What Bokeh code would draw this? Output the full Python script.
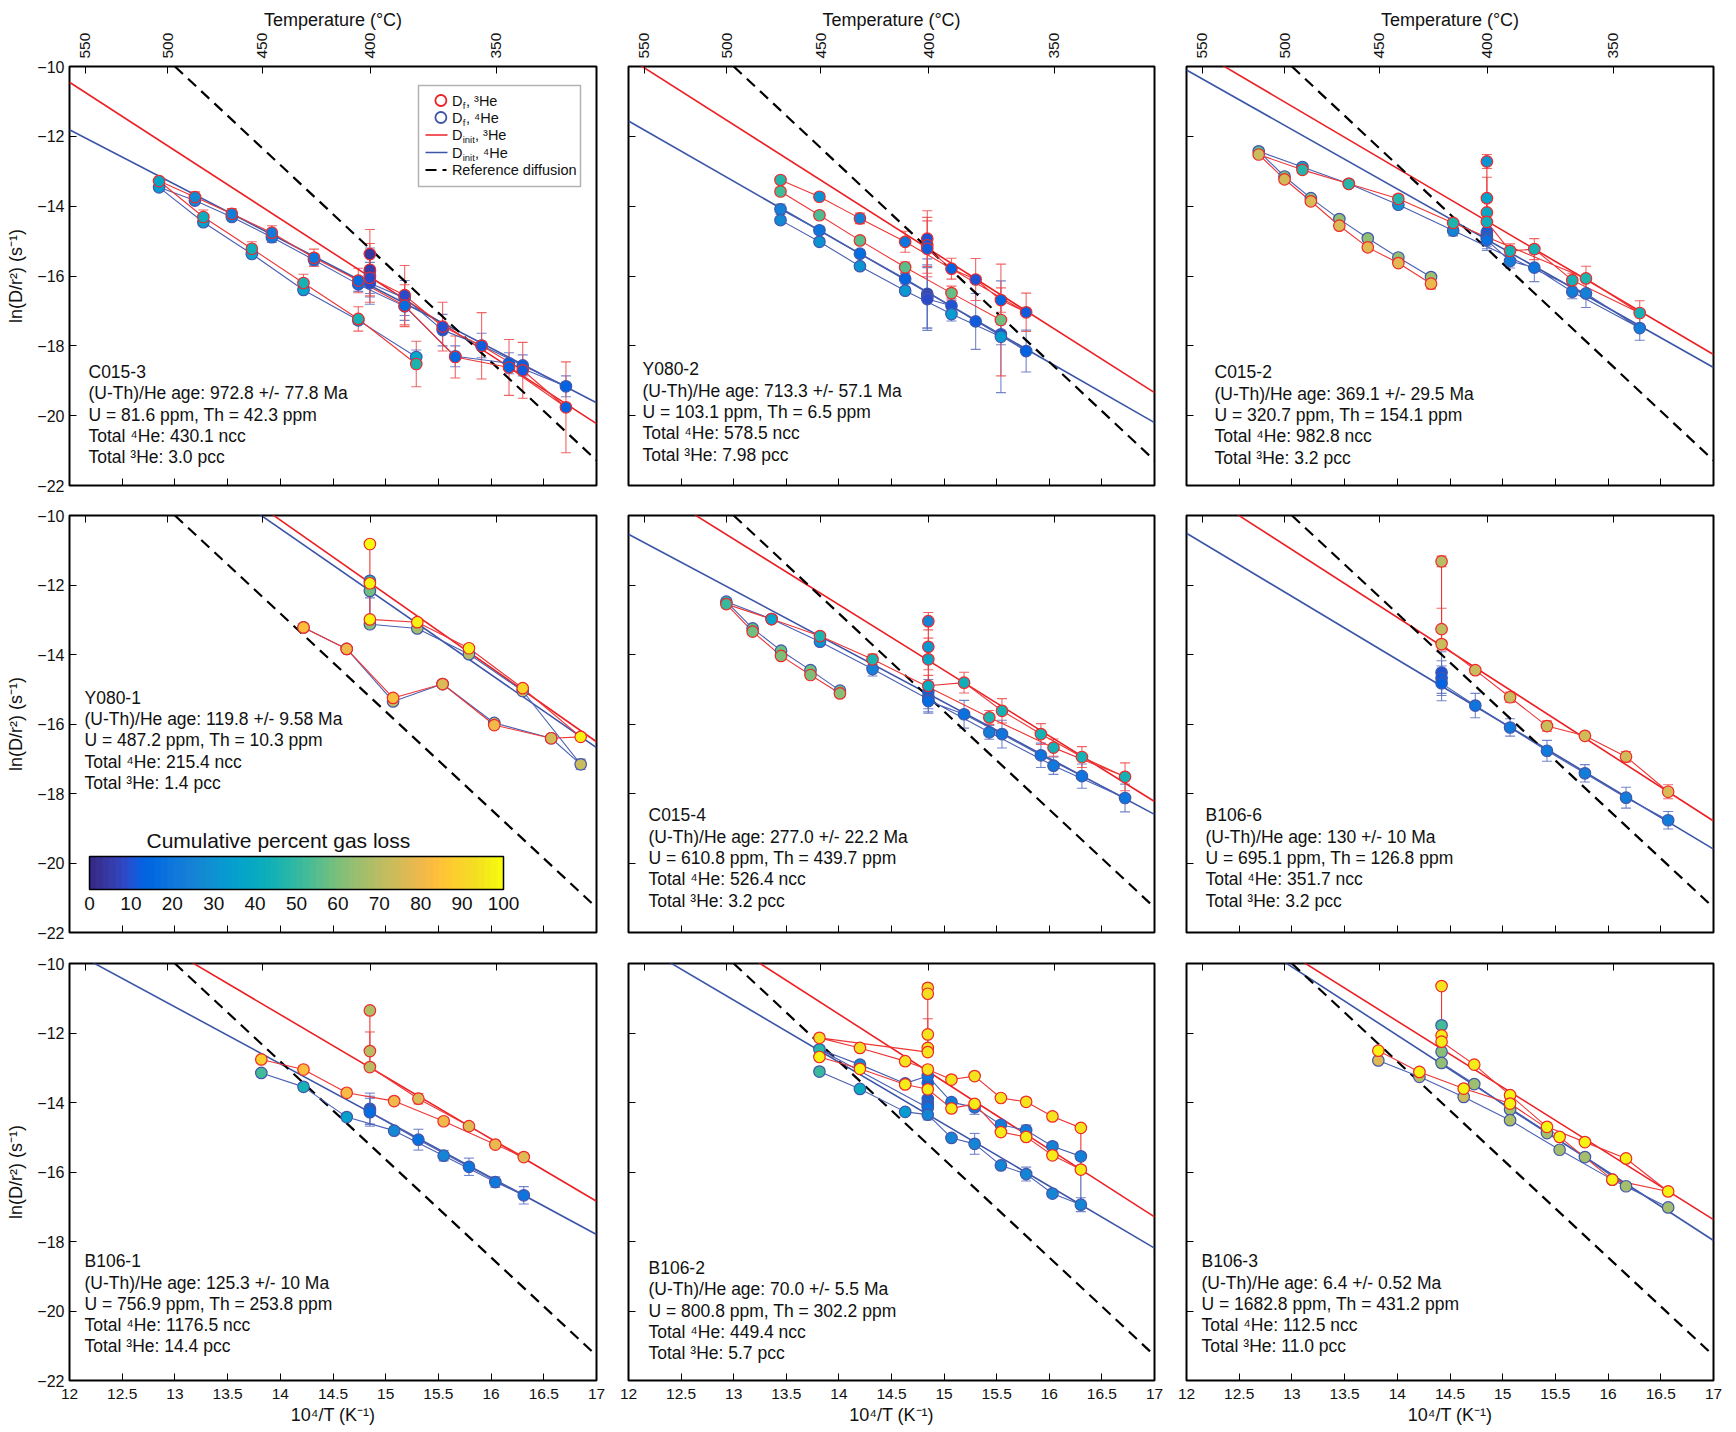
from bokeh.plotting import figure
from bokeh.models import (Range1d, LinearAxis, FixedTicker, CustomJSTickFormatter,
                          ColumnDataSource, Whisker, TeeHead, Label, LinearColorMapper,
                          ColorBar, BoxAnnotation)
from bokeh.transform import linear_cmap
from bokeh.layouts import column, row
from bokeh.embed import file_html
from bokeh.resources import INLINE

# ------------------------------------------------------------------ data
temp_ticks_c = [550, 500, 450, 400, 350]
x_ticks = [12, 12.5, 13, 13.5, 14, 14.5, 15, 15.5, 16, 16.5, 17]
y_ticks = [-22, -20, -18, -16, -14, -12, -10]
gas_ticks = [0, 10, 20, 30, 40, 50, 60, 70, 80, 90, 100]

ref_x = [13.0, 17.0]
ref_lnD = [-10.0, -21.28]
init_x = [12.0, 17.0]

# C015-3
c0153_x = [14.85, 14.85, 14.85, 15.18, 15.54, 15.91, 16.30, 16.71, 16.17, 15.66, 15.18, 14.74, 14.32, 13.92, 13.54, 13.19, 12.85, 13.27, 13.73, 14.22, 14.74, 15.29]
c0153_ln3 = [-15.37, -15.82, -16.05, -16.55, -17.45, -18.00, -18.70, -19.76, -18.62, -18.32, -16.85, -16.13, -15.48, -14.76, -14.22, -13.74, -13.28, -14.31, -15.22, -16.20, -17.23, -18.52]
c0153_ln4 = [-15.85, -16.00, -16.21, -16.63, -17.55, -17.99, -18.56, -19.16, -18.50, -18.30, -16.87, -16.24, -15.54, -14.89, -14.31, -13.84, -13.46, -14.46, -15.37, -16.40, -17.27, -18.32]
c0153_f3 = [4, 6, 8, 9, 10, 11, 12, 13, 14, 15, 16, 17, 19, 21, 23, 27, 38, 42, 43, 44, 45, 46]
c0153_f4 = [4, 6, 8, 9, 10, 11, 12, 13, 14, 15, 16, 17, 19, 21, 23, 26, 33, 35, 36, 37, 38, 39]
c0153_e3 = [0.7, 0.75, 0.7, 0.85, 0.7, 0.95, 0.8, 1.3, 0.8, 0.6, 0.6, 0.35, 0.25, 0.2, 0.15, 0.15, 0.1, 0.2, 0.2, 0.25, 0.35, 0.65]
c0153_e4 = [0.65, 0.6, 0.6, 0.5, 0.45, 0.35, 0.3, 0.3, 0.3, 0.3, 0.4, 0.2, 0.15, 0.15, 0.1, 0.1, 0.1, 0.1, 0.1, 0.1, 0.1, 0.2]
c0153_init3 = [-10.45, -20.23]
c0153_init4 = [-11.81, -19.63]

# Y080-2
y0802_x = [14.84, 14.84, 14.84, 15.07, 15.30, 15.54, 15.78, 14.63, 14.20, 13.815, 13.445, 13.445, 13.815, 14.20, 14.63, 15.07, 15.54]
y0802_ln3 = [-14.93, -15.12, -15.22, -15.79, -16.10, -16.69, -17.04, -15.02, -14.35, -13.73, -13.25, -13.58, -14.26, -14.98, -15.75, -16.49, -17.26]
y0802_ln4 = [-16.51, -16.58, -16.66, -16.85, -17.30, -17.67, -18.15, -16.08, -15.36, -14.69, -14.09, -14.40, -15.02, -15.72, -16.42, -17.09, -17.74]
y0802_f3 = [10, 11, 12, 14, 10, 15, 12, 20, 24, 30, 48, 52, 54, 55, 56, 57, 58]
y0802_f4 = [5, 7, 9, 10, 11, 12, 13, 14, 16, 20, 24, 28, 30, 31, 32, 33, 34]
y0802_e3 = [0.8, 0.8, 0.8, 0.3, 0.6, 0.35, 0.55, 0.3, 0.15, 0.1, 0.1, 0.1, 0.1, 0.1, 0.15, 0.2, 1.6]
y0802_e4 = [1.0, 0.9, 0.9, 0.2, 0.8, 0.3, 0.6, 0.15, 0.1, 0.1, 0.15, 0.1, 0.1, 0.1, 0.1, 0.2, 1.6]
y0802_init3 = [-9.75, -19.34]
y0802_init4 = [-11.56, -20.20]

# C015-2
c0152_x = [14.85, 14.85, 14.85, 14.85, 15.07, 15.30, 15.66, 16.30, 15.79, 14.53, 14.01, 13.54, 13.10, 12.685, 12.93, 13.18, 13.45, 13.72, 14.01, 14.32]
c0152_ln3 = [-12.72, -13.77, -14.18, -14.45, -15.28, -15.23, -16.12, -17.06, -16.07, -14.48, -13.79, -13.36, -12.96, -12.52, -13.23, -13.86, -14.56, -15.18, -15.63, -16.22]
c0152_ln4 = [-14.75, -14.85, -14.92, -14.97, -15.57, -15.76, -16.45, -17.49, -16.50, -14.70, -13.96, -13.36, -12.88, -12.43, -13.15, -13.77, -14.37, -14.92, -15.47, -16.03]
c0152_f3 = [30, 36, 40, 43, 44, 44, 45, 45, 46, 46, 47, 47, 48, 72, 74, 75, 76, 77, 78, 79]
c0152_f4 = [12, 14, 16, 18, 22, 20, 22, 23, 24, 26, 30, 38, 42, 55, 60, 62, 63, 64, 64, 65]
c0152_e3 = [0.2, 0.6, 0.3, 0.2, 0.2, 0.3, 0.2, 0.35, 0.35, 0.1, 0.1, 0.1, 0.1, 0.1, 0.1, 0.1, 0.1, 0.1, 0.1, 0.15]
c0152_e4 = [0.3, 0.3, 0.3, 0.3, 0.2, 0.4, 0.2, 0.35, 0.4, 0.15, 0.1, 0.1, 0.1, 0.1, 0.1, 0.1, 0.1, 0.1, 0.1, 0.1]
c0152_init3 = [-9.36, -18.25]
c0152_init4 = [-10.10, -18.62]

# Y080-1
y0801_x = [14.22, 14.63, 15.07, 15.54, 16.03, 16.57, 16.85, 16.30, 15.79, 15.30, 14.85, 14.85, 14.85]
y0801_ln3 = [-13.22, -13.84, -15.25, -14.85, -16.03, -16.41, -16.37, -14.97, -13.82, -13.07, -12.99, -11.95, -10.82]
y0801_ln4 = [-13.22, -13.84, -15.35, -14.85, -15.97, -16.41, -17.16, -15.05, -13.99, -13.25, -13.13, -12.17, -11.88]
y0801_f3 = [84, 80, 84, 76, 80, 74, 97, 90, 96, 97, 97, 98, 99]
y0801_f4 = [80, 76, 72, 72, 72, 72, 72, 72, 70, 66, 62, 58, 48]
y0801_e3 = [0.1, 0.1, 0.1, 0.1, 0.1, 0.1, 0.1, 0.1, 0.1, 0.1, 0.1, 0.1, 0.1]
y0801_e4 = [0.1, 0.1, 0.1, 0.1, 0.1, 0.1, 0.15, 0.1, 0.1, 0.1, 0.1, 0.2, 0.1]
y0801_init3 = [-5.88, -16.51]
y0801_init4 = [-6.18, -16.68]

# C015-4
c0154_x = [14.85, 14.85, 14.85, 14.85, 15.19, 15.55, 15.92, 16.31, 16.72, 16.04, 15.43, 14.32, 13.82, 13.36, 12.93, 13.18, 13.45, 13.73, 14.01]
c0154_ln3 = [-13.04, -13.78, -14.14, -14.90, -14.81, -15.62, -16.29, -16.95, -17.52, -16.68, -15.81, -14.14, -13.47, -12.98, -12.55, -13.34, -14.04, -14.59, -15.12]
c0154_ln4 = [-15.07, -15.21, -15.30, -15.34, -15.72, -16.29, -16.90, -17.50, -18.13, -17.20, -16.24, -14.42, -13.63, -12.98, -12.48, -13.25, -13.89, -14.45, -15.04]
c0154_f3 = [26, 32, 38, 42, 43, 44, 44, 45, 45, 45, 46, 46, 46, 36, 50, 58, 60, 60, 61]
c0154_f4 = [12, 14, 15, 16, 18, 19, 19, 20, 20, 21, 22, 24, 30, 34, 48, 56, 57, 58, 59]
c0154_e3 = [0.25, 0.25, 0.3, 0.3, 0.3, 0.35, 0.3, 0.3, 0.4, 0.25, 0.2, 0.15, 0.1, 0.1, 0.1, 0.1, 0.1, 0.1, 0.1]
c0154_e4 = [0.35, 0.35, 0.35, 0.35, 0.4, 0.4, 0.35, 0.35, 0.4, 0.25, 0.2, 0.2, 0.1, 0.1, 0.1, 0.1, 0.1, 0.1, 0.1]
c0154_init3 = [-8.79, -18.23]
c0154_init4 = [-10.54, -18.60]

# B106-6
b1066_x = [14.42, 14.42, 14.42, 14.74, 15.07, 15.42, 15.78, 16.17, 16.57]
b1066_ln3 = [-11.32, -13.27, -13.70, -14.45, -15.23, -16.06, -16.34, -16.94, -17.95]
b1066_ln4 = [-14.52, -14.68, -14.83, -15.47, -16.10, -16.77, -17.42, -18.12, -18.77]
b1066_f3 = [70, 71, 72, 72, 73, 73, 74, 74, 75]
b1066_f4 = [10, 12, 14, 20, 21, 21, 22, 22, 23]
b1066_e3 = [0.15, 0.6, 0.1, 0.1, 0.15, 0.15, 0.1, 0.15, 0.2]
b1066_e4 = [0.6, 0.5, 0.5, 0.35, 0.25, 0.3, 0.25, 0.3, 0.25]
b1066_init3 = [-9.03, -18.79]
b1066_init4 = [-10.51, -19.60]

# B106-1
b1061_x = [14.85, 14.85, 14.85, 15.31, 15.79, 16.31, 16.04, 15.55, 15.08, 14.63, 14.22, 13.82]
b1061_ln3 = [-11.35, -12.52, -12.98, -13.89, -14.68, -15.57, -15.21, -14.54, -13.96, -13.72, -13.05, -12.76]
b1061_ln4 = [-14.18, -14.22, -14.28, -15.07, -15.85, -16.67, -16.29, -15.53, -14.81, -14.42, -13.55, -13.15]
b1061_f3 = [68, 69, 70, 76, 77, 78, 79, 80, 81, 82, 83, 88]
b1061_f4 = [14, 15, 16, 18, 19, 20, 21, 25, 28, 35, 45, 52]
b1061_e3 = [0.1, 0.55, 0.1, 0.15, 0.1, 0.1, 0.1, 0.1, 0.1, 0.1, 0.1, 0.1]
b1061_e4 = [0.45, 0.4, 0.4, 0.3, 0.25, 0.25, 0.15, 0.15, 0.1, 0.1, 0.1, 0.1]
b1061_init3 = [-7.89, -16.84]
b1061_init4 = [-9.61, -17.80]

# B106-2
b1062_x = [14.845, 14.845, 14.845, 14.845, 14.845, 13.815, 14.2, 14.63, 14.845, 15.07, 15.29, 15.54, 15.78, 16.03, 16.30, 16.30, 16.03, 15.78, 15.54, 15.29, 15.07, 14.845, 14.63, 14.2, 13.815]
b1062_ln3 = [-10.70, -10.87, -12.04, -12.43, -12.55, -12.14, -12.43, -12.81, -13.05, -13.34, -13.24, -13.87, -13.98, -14.40, -14.73, -15.93, -15.52, -14.99, -14.85, -14.04, -14.17, -13.62, -13.48, -13.03, -12.69]
b1062_ln4 = [-13.43, -13.90, -14.01, -14.10, -14.15, -12.47, -12.91, -13.45, -13.24, -13.99, -14.14, -14.64, -14.80, -15.26, -15.55, -16.94, -16.62, -16.06, -15.81, -15.19, -15.02, -14.35, -14.27, -13.61, -13.11]
b1062_f3 = [92, 93, 94, 94, 95, 93, 93, 94, 94, 95, 95, 95, 95, 95, 95, 96, 96, 96, 96, 96, 96, 96, 96, 97, 97]
b1062_f4 = [14, 15, 16, 17, 18, 48, 28, 22, 20, 22, 22, 23, 23, 24, 24, 25, 25, 25, 25, 25, 25, 25, 33, 42, 50]
b1062_e3 = [0.1, 0.1, 0.45, 0.1, 0.1, 0.1, 0.1, 0.1, 0.1, 0.1, 0.1, 0.1, 0.1, 0.1, 0.1, 0.1, 0.1, 0.1, 0.1, 0.1, 0.1, 0.1, 0.1, 0.1, 0.1]
b1062_e4 = [0.3, 0.3, 0.3, 0.3, 0.35, 0.1, 0.1, 0.1, 0.1, 0.1, 0.2, 0.1, 0.15, 0.1, 0.1, 0.2, 0.1, 0.2, 0.1, 0.3, 0.1, 0.1, 0.1, 0.1, 0.1]
b1062_init3 = [-7.57, -17.29]
b1062_init4 = [-9.27, -18.19]

# B106-3
b1063_x = [14.42, 14.42, 14.42, 14.73, 15.07, 15.42, 15.78, 16.17, 16.57, 16.04, 15.54, 15.07, 14.63, 14.21, 13.82]
b1063_ln3 = [-10.65, -12.07, -12.25, -12.91, -13.79, -14.70, -15.14, -15.61, -16.56, -16.22, -14.99, -14.03, -13.60, -13.12, -12.51]
b1063_ln4 = [-11.78, -12.54, -12.86, -13.47, -14.20, -14.88, -15.57, -16.41, -17.02, -16.22, -15.36, -14.51, -13.84, -13.26, -12.79]
b1063_f3 = [95, 96, 96, 96, 97, 97, 97, 97, 98, 98, 98, 98, 98, 98, 98]
b1063_f4 = [52, 62, 64, 65, 66, 66, 66, 67, 67, 67, 67, 68, 72, 70, 78]
b1063_e3 = [0.08, 0.08, 0.08, 0.08, 0.08, 0.08, 0.08, 0.08, 0.08, 0.08, 0.08, 0.08, 0.08, 0.08, 0.08]
b1063_e4 = [0.08, 0.08, 0.08, 0.08, 0.08, 0.08, 0.08, 0.08, 0.08, 0.08, 0.08, 0.08, 0.08, 0.08, 0.08]
b1063_init3 = [-7.85, -17.37]
b1063_init4 = [-8.13, -17.97]

c0153_text = ["C015-3", "(U-Th)/He age: 972.8 +/- 77.8 Ma", "U = 81.6 ppm, Th = 42.3 ppm", "Total \u2074He: 430.1 ncc", "Total \u00b3He: 3.0 pcc"]
y0802_text = ["Y080-2", "(U-Th)/He age: 713.3 +/- 57.1 Ma", "U = 103.1 ppm, Th = 6.5 ppm", "Total \u2074He: 578.5 ncc", "Total \u00b3He: 7.98 pcc"]
c0152_text = ["C015-2", "(U-Th)/He age: 369.1 +/- 29.5 Ma", "U = 320.7 ppm, Th = 154.1 ppm", "Total \u2074He: 982.8 ncc", "Total \u00b3He: 3.2 pcc"]
y0801_text = ["Y080-1", "(U-Th)/He age: 119.8 +/- 9.58 Ma", "U = 487.2 ppm, Th = 10.3 ppm", "Total \u2074He: 215.4 ncc", "Total \u00b3He: 1.4 pcc"]
c0154_text = ["C015-4", "(U-Th)/He age: 277.0 +/- 22.2 Ma", "U = 610.8 ppm, Th = 439.7 ppm", "Total \u2074He: 526.4 ncc", "Total \u00b3He: 3.2 pcc"]
b1066_text = ["B106-6", "(U-Th)/He age: 130 +/- 10 Ma", "U = 695.1 ppm, Th = 126.8 ppm", "Total \u2074He: 351.7 ncc", "Total \u00b3He: 3.2 pcc"]
b1061_text = ["B106-1", "(U-Th)/He age: 125.3 +/- 10 Ma", "U = 756.9 ppm, Th = 253.8 ppm", "Total \u2074He: 1176.5 ncc", "Total \u00b3He: 14.4 pcc"]
b1062_text = ["B106-2", "(U-Th)/He age: 70.0 +/- 5.5 Ma", "U = 800.8 ppm, Th = 302.2 ppm", "Total \u2074He: 449.4 ncc", "Total \u00b3He: 5.7 pcc"]
b1063_text = ["B106-3", "(U-Th)/He age: 6.4 +/- 0.52 Ma", "U = 1682.8 ppm, Th = 431.2 ppm", "Total \u2074He: 112.5 ncc", "Total \u00b3He: 11.0 pcc"]

# ------------------------------------------------------------------ style
FONT = "Liberation Sans"
RED = "#ec2024"
BLUE = "#3b55a6"
RED_EDGE = "#ee2a2a"
BLUE_EDGE = "#4257ab"
PARULA_RGB = [
    (0.2081, 0.1663, 0.5292), (0.2116, 0.1898, 0.5777), (0.2123, 0.2138, 0.6270), (0.2081, 0.2386, 0.6771),
    (0.1959, 0.2645, 0.7279), (0.1707, 0.2919, 0.7792), (0.1253, 0.3242, 0.8303), (0.0591, 0.3598, 0.8683),
    (0.0117, 0.3875, 0.8820), (0.0060, 0.4086, 0.8828), (0.0165, 0.4266, 0.8786), (0.0329, 0.4430, 0.8720),
    (0.0498, 0.4586, 0.8641), (0.0629, 0.4737, 0.8554), (0.0723, 0.4887, 0.8467), (0.0779, 0.5040, 0.8384),
    (0.0793, 0.5200, 0.8312), (0.0749, 0.5375, 0.8263), (0.0641, 0.5570, 0.8240), (0.0488, 0.5772, 0.8228),
    (0.0343, 0.5966, 0.8199), (0.0265, 0.6137, 0.8135), (0.0239, 0.6287, 0.8038), (0.0231, 0.6418, 0.7913),
    (0.0228, 0.6535, 0.7768), (0.0267, 0.6642, 0.7607), (0.0384, 0.6743, 0.7436), (0.0590, 0.6838, 0.7254),
    (0.0843, 0.6928, 0.7062), (0.1133, 0.7015, 0.6859), (0.1453, 0.7098, 0.6646), (0.1801, 0.7177, 0.6424),
    (0.2178, 0.7250, 0.6193), (0.2586, 0.7317, 0.5954), (0.3022, 0.7376, 0.5712), (0.3482, 0.7424, 0.5473),
    (0.3953, 0.7459, 0.5244), (0.4420, 0.7481, 0.5033), (0.4871, 0.7491, 0.4840), (0.5300, 0.7491, 0.4661),
    (0.5709, 0.7485, 0.4494), (0.6099, 0.7473, 0.4337), (0.6473, 0.7456, 0.4188), (0.6834, 0.7435, 0.4044),
    (0.7184, 0.7411, 0.3905), (0.7525, 0.7384, 0.3768), (0.7858, 0.7356, 0.3633), (0.8185, 0.7327, 0.3498),
    (0.8507, 0.7299, 0.3360), (0.8824, 0.7274, 0.3217), (0.9139, 0.7258, 0.3063), (0.9450, 0.7261, 0.2886),
    (0.9739, 0.7314, 0.2666), (0.9938, 0.7455, 0.2403), (0.9990, 0.7653, 0.2164), (0.9955, 0.7861, 0.1967),
    (0.9880, 0.8066, 0.1794), (0.9789, 0.8271, 0.1633), (0.9697, 0.8481, 0.1475), (0.9626, 0.8705, 0.1309),
    (0.9589, 0.8949, 0.1132), (0.9598, 0.9218, 0.0948), (0.9661, 0.9514, 0.0755), (0.9763, 0.9831, 0.0538)]
PARULA = ["#%02x%02x%02x" % tuple(int(round(v * 255)) for v in c) for c in PARULA_RGB]

panels = [
    dict(x=c0153_x, ln3=c0153_ln3, ln4=c0153_ln4, f3=c0153_f3, f4=c0153_f4, e3=c0153_e3, e4=c0153_e4,
         i3=c0153_init3, i4=c0153_init4, text=c0153_text, tx=19, ty=0.729),
    dict(x=y0802_x, ln3=y0802_ln3, ln4=y0802_ln4, f3=y0802_f3, f4=y0802_f4, e3=y0802_e3, e4=y0802_e4,
         i3=y0802_init3, i4=y0802_init4, text=y0802_text, tx=14, ty=0.723),
    dict(x=c0152_x, ln3=c0152_ln3, ln4=c0152_ln4, f3=c0152_f3, f4=c0152_f4, e3=c0152_e3, e4=c0152_e4,
         i3=c0152_init3, i4=c0152_init4, text=c0152_text, tx=28, ty=0.730),
    dict(x=y0801_x, ln3=y0801_ln3, ln4=y0801_ln4, f3=y0801_f3, f4=y0801_f4, e3=y0801_e3, e4=y0801_e4,
         i3=y0801_init3, i4=y0801_init4, text=y0801_text, tx=15, ty=0.437),
    dict(x=c0154_x, ln3=c0154_ln3, ln4=c0154_ln4, f3=c0154_f3, f4=c0154_f4, e3=c0154_e3, e4=c0154_e4,
         i3=c0154_init3, i4=c0154_init4, text=c0154_text, tx=20, ty=0.719),
    dict(x=b1066_x, ln3=b1066_ln3, ln4=b1066_ln4, f3=b1066_f3, f4=b1066_f4, e3=b1066_e3, e4=b1066_e4,
         i3=b1066_init3, i4=b1066_init4, text=b1066_text, tx=19, ty=0.719),
    dict(x=b1061_x, ln3=b1061_ln3, ln4=b1061_ln4, f3=b1061_f3, f4=b1061_f4, e3=b1061_e3, e4=b1061_e4,
         i3=b1061_init3, i4=b1061_init4, text=b1061_text, tx=15, ty=0.714),
    dict(x=b1062_x, ln3=b1062_ln3, ln4=b1062_ln4, f3=b1062_f3, f4=b1062_f4, e3=b1062_e3, e4=b1062_e4,
         i3=b1062_init3, i4=b1062_init4, text=b1062_text, tx=20, ty=0.730),
    dict(x=b1063_x, ln3=b1063_ln3, ln4=b1063_ln4, f3=b1063_f3, f4=b1063_f4, e3=b1063_e3, e4=b1063_e4,
         i3=b1063_init3, i4=b1063_init4, text=b1063_text, tx=15, ty=0.714),
]

W_COL = [612, 558, 566]
BL = [69, 16, 16]
BR = [16, 16, 23]
H_ROW = [500, 447, 485]
BT = [66, 15, 16]
BB = [15, 15, 52]

temp_pos = [1e4 / (t + 273.15) for t in temp_ticks_c]
x_fmt = CustomJSTickFormatter(code="return Math.abs(tick-Math.round(tick))<1e-9 ? tick.toFixed(0) : tick.toFixed(1);")
t_fmt = CustomJSTickFormatter(code="return Math.round(1e4/tick - 273.15).toString();")


def style_axis(ax, show, title=None, standoff=8, size="15.5px"):
    ax.axis_line_color = None
    ax.major_tick_in = 7
    ax.major_tick_out = 0
    ax.minor_tick_in = 0
    ax.minor_tick_out = 0
    ax.major_tick_line_color = "black"
    ax.major_tick_line_width = 1
    ax.major_label_text_font = FONT
    if show:
        ax.major_label_text_font_size = size
        ax.major_label_text_color = "#111111"
    else:
        ax.major_label_text_font_size = "1px"
        ax.major_label_text_color = None
    ax.major_label_standoff = standoff
    ax.axis_label = title
    ax.axis_label_text_font = FONT
    ax.axis_label_text_font_size = "18px"
    ax.axis_label_text_font_style = "normal"
    ax.axis_label_text_color = "#111111"


figs = []
for i, P in enumerate(panels):
    r, c = divmod(i, 3)
    W, H = W_COL[c], H_ROW[r]
    Wf = W - BL[c] - BR[c]
    Hf = H - BT[r] - BB[r]
    p = figure(width=W, height=H, x_range=Range1d(12, 17), y_range=Range1d(-22, -10),
               output_backend="svg", toolbar_location=None,
               min_border_left=BL[c], min_border_right=BR[c],
               min_border_top=BT[r], min_border_bottom=BB[r])
    p.grid.visible = False
    p.outline_line_color = "black"
    p.outline_line_width = 2
    p.background_fill_color = "white"
    p.border_fill_color = "white"

    xa = p.below[0]
    xa.ticker = FixedTicker(ticks=x_ticks)
    xa.formatter = x_fmt
    style_axis(xa, r == 2, "10\u2074/T (K\u207b\u00b9)" if r == 2 else None, standoff=8)
    xa.axis_label_standoff = 3

    ya = p.left[0]
    ya.ticker = FixedTicker(ticks=y_ticks)
    style_axis(ya, c == 0, "ln(D/r\u00b2) (s\u207b\u00b9)" if c == 0 else None, standoff=5, size="16px")
    ya.axis_label_standoff = 8

    ta = LinearAxis(ticker=FixedTicker(ticks=temp_pos), formatter=t_fmt)
    style_axis(ta, r == 0, "Temperature (\u00b0C)" if r == 0 else None, standoff=8)
    ta.major_label_orientation = "vertical"
    ta.axis_label_standoff = 0
    p.add_layout(ta, "above")

    # lines
    p.line(init_x, P["i3"], line_color=RED, line_width=1.6)
    p.line(init_x, P["i4"], line_color=BLUE, line_width=1.6)
    p.line(ref_x, ref_lnD, line_color="black", line_width=2.2, line_dash="11 7")

    src = ColumnDataSource(dict(
        x=P["x"], y3=P["ln3"], y4=P["ln4"], f3=P["f3"], f4=P["f4"],
        up3=[a + b for a, b in zip(P["ln3"], P["e3"])], lo3=[a - b for a, b in zip(P["ln3"], P["e3"])],
        up4=[a + b for a, b in zip(P["ln4"], P["e4"])], lo4=[a - b for a, b in zip(P["ln4"], P["e4"])]))

    p.line("x", "y4", source=src, line_color="#4a60b3", line_width=1.1)
    p.line("x", "y3", source=src, line_color="#ee3535", line_width=1.1)

    for up, lo, col in (("up4", "lo4", "#5c70c2"), ("up3", "lo3", "#f04a4a")):
        w = Whisker(source=src, base="x", upper=up, lower=lo, dimension="height",
                    line_color=col, line_width=1.1, line_alpha=0.85,
                    upper_head=TeeHead(size=10, line_color=col, line_width=1.1, line_alpha=0.85),
                    lower_head=TeeHead(size=10, line_color=col, line_width=1.1, line_alpha=0.85),
                    level="underlay")
        p.add_layout(w)

    p.scatter("x", "y4", source=src, size=11.5, marker="circle",
              fill_color=linear_cmap("f4", PARULA, 0, 100), line_color=BLUE_EDGE, line_width=1.2)
    p.scatter("x", "y3", source=src, size=11.5, marker="circle",
              fill_color=linear_cmap("f3", PARULA, 0, 100), line_color=RED_EDGE, line_width=1.2)

    # sample text
    for j, t in enumerate(P["text"]):
        p.add_layout(Label(x=P["tx"], y=Hf - (P["ty"] * Hf + j * 21.3), x_units="screen", y_units="screen",
                           text=t, text_font=FONT, text_font_size="17.5px", text_baseline="middle",
                           text_color="#111111"))

    if i == 0:
        # legend drawn by hand
        def fx(px):
            return 12 + px / Wf * 5

        def fy(py):
            return -10 - py / Hf * 12

        p.add_layout(BoxAnnotation(left=349, right=511, top=Hf - 19, bottom=Hf - 120,
                                   left_units="screen", right_units="screen",
                                   top_units="screen", bottom_units="screen",
                                   fill_color="white", fill_alpha=1, line_color="black",
                                   line_width=1.5, level="underlay"))
        rows_py = [34, 51, 68.5, 86, 103.5]
        p.scatter([fx(371.4)], [fy(rows_py[0])], size=11, marker="circle", fill_color="white",
                  line_color=RED, line_width=1.8)
        p.scatter([fx(371.4)], [fy(rows_py[1])], size=11, marker="circle", fill_color="white",
                  line_color=BLUE, line_width=1.8)
        p.line([fx(356), fx(378)], [fy(rows_py[2])] * 2, line_color=RED, line_width=1.5)
        p.line([fx(356), fx(378)], [fy(rows_py[3])] * 2, line_color=BLUE, line_width=1.5)
        p.line([fx(356), fx(378)], [fy(rows_py[4])] * 2, line_color="black", line_width=2,
               line_dash="11 6 4 40")
        lf = dict(x_units="screen", y_units="screen", text_font=FONT, text_baseline="middle",
                  text_color="#111111")
        for k, (sub, iso) in enumerate((("f", "\u00b3He"), ("f", "\u2074He"),
                                        ("init", "\u00b3He"), ("init", "\u2074He"))):
            yy = Hf - rows_py[k]
            p.add_layout(Label(x=382.4, y=yy, text="D", text_font_size="14.5px", **lf))
            p.add_layout(Label(x=393.2, y=yy - 4.5, text=sub, text_font_size="9.5px", **lf))
            p.add_layout(Label(x=396.5 if sub == "f" else 405.5, y=yy, text=", " + iso,
                               text_font_size="14.5px", **lf))
        p.add_layout(Label(x=382.4, y=Hf - rows_py[4], text="Reference diffusion",
                           text_font_size="14.5px", **lf))

    if i == 3:
        mapper = LinearColorMapper(palette=PARULA, low=0, high=100)
        cb = ColorBar(color_mapper=mapper, orientation="horizontal", location=(20, 20),
                      width=414, height=33, padding=0, margin=0,
                      ticker=FixedTicker(ticks=gas_ticks), major_tick_line_color=None,
                      minor_tick_line_color=None, bar_line_color="black", bar_line_width=1.5,
                      label_standoff=7, major_label_text_font=FONT, major_label_text_font_size="19px",
                      major_label_text_color="#111111",
                      background_fill_alpha=0, border_line_color=None)
        p.add_layout(cb)
        p.add_layout(Label(x=77, y=Hf - 325, x_units="screen", y_units="screen",
                           text="Cumulative percent gas loss", text_font=FONT, text_font_size="21px",
                           text_baseline="middle", text_color="#111111"))
    figs.append(p)

layout = column(row(*figs[0:3]), row(*figs[3:6]), row(*figs[6:9]))
html = file_html(layout, INLINE, title="ln(D/r2) Arrhenius plots")
html = html.replace("<head>", "<head><style>html,body{margin:0;padding:0;}</style>", 1)
open("out.html", "w").write(html)
